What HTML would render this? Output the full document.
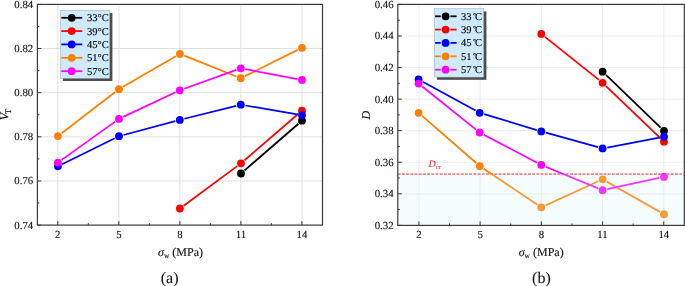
<!DOCTYPE html>
<html><head><meta charset="utf-8"><title>chart</title>
<style>
html,body{margin:0;padding:0;background:#fff;}
body{width:685px;height:286px;overflow:hidden;font-family:"Liberation Serif",serif;}
text{stroke:#000;stroke-width:0.12px;}
svg{display:block;font-family:"Liberation Serif",serif;will-change:transform;text-rendering:geometricPrecision;}
</style></head><body>
<svg width="685" height="286" viewBox="0 0 685 286">
<rect width="685" height="286" fill="#fff"/>
<line x1="57.8" y1="4.4" x2="57.8" y2="225.1" stroke="#e0e0e0" stroke-width="1"/><line x1="118.83" y1="4.4" x2="118.83" y2="225.1" stroke="#e0e0e0" stroke-width="1"/><line x1="179.86" y1="4.4" x2="179.86" y2="225.1" stroke="#e0e0e0" stroke-width="1"/><line x1="240.89" y1="4.4" x2="240.89" y2="225.1" stroke="#e0e0e0" stroke-width="1"/><line x1="301.92" y1="4.4" x2="301.92" y2="225.1" stroke="#e0e0e0" stroke-width="1"/><line x1="37.4" y1="48.54" x2="322.5" y2="48.54" stroke="#e0e0e0" stroke-width="1"/><line x1="37.4" y1="92.68" x2="322.5" y2="92.68" stroke="#e0e0e0" stroke-width="1"/><line x1="37.4" y1="136.82000000000002" x2="322.5" y2="136.82000000000002" stroke="#e0e0e0" stroke-width="1"/><line x1="37.4" y1="180.96" x2="322.5" y2="180.96" stroke="#e0e0e0" stroke-width="1"/>
<line x1="244.55" y1="170.42" x2="298.45" y2="123.78" stroke="#000000" stroke-width="1.75"/><circle cx="241.0" cy="173.5" r="3.9" fill="#000000"/><circle cx="302.0" cy="120.7" r="3.9" fill="#000000"/>
<line x1="183.68" y1="205.70" x2="237.22" y2="166.10" stroke="#ff0000" stroke-width="1.75"/><line x1="244.56" y1="160.23" x2="298.44" y2="113.77" stroke="#ff0000" stroke-width="1.75"/><circle cx="179.9" cy="208.5" r="3.9" fill="#ff0000"/><circle cx="241.0" cy="163.3" r="3.9" fill="#ff0000"/><circle cx="302.0" cy="110.7" r="3.9" fill="#ff0000"/>
<line x1="62.12" y1="164.22" x2="114.78" y2="138.28" stroke="#0000ff" stroke-width="1.75"/><line x1="123.54" y1="134.98" x2="175.26" y2="121.12" stroke="#0000ff" stroke-width="1.75"/><line x1="184.36" y1="118.76" x2="236.24" y2="105.84" stroke="#0000ff" stroke-width="1.75"/><line x1="245.43" y1="105.49" x2="297.37" y2="114.41" stroke="#0000ff" stroke-width="1.75"/><circle cx="57.9" cy="166.3" r="3.9" fill="#0000ff"/><circle cx="119.0" cy="136.2" r="3.9" fill="#0000ff"/><circle cx="179.8" cy="119.9" r="3.9" fill="#0000ff"/><circle cx="240.8" cy="104.7" r="3.9" fill="#0000ff"/><circle cx="302.0" cy="115.2" r="3.9" fill="#0000ff"/>
<line x1="61.63" y1="133.24" x2="115.27" y2="92.06" stroke="#ff8000" stroke-width="1.75"/><line x1="123.07" y1="86.84" x2="175.83" y2="56.26" stroke="#ff8000" stroke-width="1.75"/><line x1="184.27" y1="55.64" x2="236.43" y2="76.46" stroke="#ff8000" stroke-width="1.75"/><line x1="245.01" y1="76.11" x2="297.79" y2="49.89" stroke="#ff8000" stroke-width="1.75"/><circle cx="57.9" cy="136.1" r="3.9" fill="#ff8000"/><circle cx="119.0" cy="89.2" r="3.9" fill="#ff8000"/><circle cx="179.9" cy="53.9" r="3.9" fill="#ff8000"/><circle cx="240.8" cy="78.2" r="3.9" fill="#ff8000"/><circle cx="302.0" cy="47.8" r="3.9" fill="#ff8000"/>
<line x1="61.72" y1="159.87" x2="115.18" y2="121.63" stroke="#ff00ff" stroke-width="1.75"/><line x1="123.25" y1="116.90" x2="175.55" y2="92.30" stroke="#ff00ff" stroke-width="1.75"/><line x1="184.22" y1="88.71" x2="236.38" y2="69.89" stroke="#ff00ff" stroke-width="1.75"/><line x1="245.42" y1="69.18" x2="297.38" y2="79.02" stroke="#ff00ff" stroke-width="1.75"/><circle cx="57.9" cy="162.6" r="3.9" fill="#ff00ff"/><circle cx="119.0" cy="118.9" r="3.9" fill="#ff00ff"/><circle cx="179.8" cy="90.3" r="3.9" fill="#ff00ff"/><circle cx="240.8" cy="68.3" r="3.9" fill="#ff00ff"/><circle cx="302.0" cy="79.9" r="3.9" fill="#ff00ff"/>
<rect x="37.4" y="4.4" width="285.1" height="220.7" fill="none" stroke="#3a3a3a" stroke-width="1.2"/><line x1="57.8" y1="225.1" x2="57.8" y2="221.1" stroke="#3a3a3a" stroke-width="1"/><line x1="118.83" y1="225.1" x2="118.83" y2="221.1" stroke="#3a3a3a" stroke-width="1"/><line x1="179.86" y1="225.1" x2="179.86" y2="221.1" stroke="#3a3a3a" stroke-width="1"/><line x1="240.89" y1="225.1" x2="240.89" y2="221.1" stroke="#3a3a3a" stroke-width="1"/><line x1="301.92" y1="225.1" x2="301.92" y2="221.1" stroke="#3a3a3a" stroke-width="1"/><line x1="37.4" y1="4.4" x2="41.4" y2="4.4" stroke="#3a3a3a" stroke-width="1"/><line x1="37.4" y1="48.54" x2="41.4" y2="48.54" stroke="#3a3a3a" stroke-width="1"/><line x1="37.4" y1="92.68" x2="41.4" y2="92.68" stroke="#3a3a3a" stroke-width="1"/><line x1="37.4" y1="136.82000000000002" x2="41.4" y2="136.82000000000002" stroke="#3a3a3a" stroke-width="1"/><line x1="37.4" y1="180.96" x2="41.4" y2="180.96" stroke="#3a3a3a" stroke-width="1"/><line x1="37.4" y1="225.1" x2="41.4" y2="225.1" stroke="#3a3a3a" stroke-width="1"/><line x1="88.315" y1="225.1" x2="88.315" y2="223.1" stroke="#3a3a3a" stroke-width="1"/><line x1="149.345" y1="225.1" x2="149.345" y2="223.1" stroke="#3a3a3a" stroke-width="1"/><line x1="210.375" y1="225.1" x2="210.375" y2="223.1" stroke="#3a3a3a" stroke-width="1"/><line x1="271.405" y1="225.1" x2="271.405" y2="223.1" stroke="#3a3a3a" stroke-width="1"/><line x1="37.4" y1="26.47" x2="39.4" y2="26.47" stroke="#3a3a3a" stroke-width="1"/><line x1="37.4" y1="70.61" x2="39.4" y2="70.61" stroke="#3a3a3a" stroke-width="1"/><line x1="37.4" y1="114.75000000000001" x2="39.4" y2="114.75000000000001" stroke="#3a3a3a" stroke-width="1"/><line x1="37.4" y1="158.89000000000001" x2="39.4" y2="158.89000000000001" stroke="#3a3a3a" stroke-width="1"/><line x1="37.4" y1="203.03" x2="39.4" y2="203.03" stroke="#3a3a3a" stroke-width="1"/><text x="57.8" y="237.9" font-size="10.8" text-anchor="middle" fill="#111">2</text><text x="118.83" y="237.9" font-size="10.8" text-anchor="middle" fill="#111">5</text><text x="179.86" y="237.9" font-size="10.8" text-anchor="middle" fill="#111">8</text><text x="240.89" y="237.9" font-size="10.8" text-anchor="middle" fill="#111">11</text><text x="301.92" y="237.9" font-size="10.8" text-anchor="middle" fill="#111">14</text><text x="33.199999999999996" y="7.800000000000001" font-size="10.8" text-anchor="end" fill="#111">0.84</text><text x="33.199999999999996" y="51.94" font-size="10.8" text-anchor="end" fill="#111">0.82</text><text x="33.199999999999996" y="96.08000000000001" font-size="10.8" text-anchor="end" fill="#111">0.80</text><text x="33.199999999999996" y="140.22000000000003" font-size="10.8" text-anchor="end" fill="#111">0.78</text><text x="33.199999999999996" y="184.36" font-size="10.8" text-anchor="end" fill="#111">0.76</text><text x="33.199999999999996" y="228.5" font-size="10.8" text-anchor="end" fill="#111">0.74</text>
<rect x="62.900000000000006" y="13.0" width="49.5" height="68.0" fill="#4d4d4d"/><rect x="60.2" y="10.3" width="49.5" height="68.0" fill="#cfeafc" stroke="#9aa" stroke-width="0.5"/><line x1="61.3" y1="17.8" x2="82.3" y2="17.8" stroke="#000000" stroke-width="1.75"/><circle cx="71.7" cy="17.8" r="3.9" fill="#000000"/><text x="87" y="21.3" font-size="10.5" fill="#000">33°C</text><line x1="61.3" y1="31.1" x2="82.3" y2="31.1" stroke="#ff0000" stroke-width="1.75"/><circle cx="71.7" cy="31.1" r="3.9" fill="#ff0000"/><text x="87" y="34.6" font-size="10.5" fill="#000">39°C</text><line x1="61.3" y1="44.4" x2="82.3" y2="44.4" stroke="#0000ff" stroke-width="1.75"/><circle cx="71.7" cy="44.4" r="3.9" fill="#0000ff"/><text x="87" y="47.9" font-size="10.5" fill="#000">45°C</text><line x1="61.3" y1="57.8" x2="82.3" y2="57.8" stroke="#ff8000" stroke-width="1.75"/><circle cx="71.7" cy="57.8" r="3.9" fill="#ff8000"/><text x="87" y="61.3" font-size="10.5" fill="#000">51°C</text><line x1="61.3" y1="71.2" x2="82.3" y2="71.2" stroke="#ff00ff" stroke-width="1.75"/><circle cx="71.7" cy="71.2" r="3.9" fill="#ff00ff"/><text x="87" y="74.7" font-size="10.5" fill="#000">57°C</text>
<text x="158" y="256" font-size="12" fill="#111"><tspan font-style="italic">σ</tspan><tspan font-size="7.5" dy="2">w</tspan><tspan dy="-2"> (MPa)</tspan></text><text x="169.6" y="283" font-size="16" text-anchor="middle" fill="#111" style="stroke-width:0.05px">(a)</text><text transform="translate(7.7,120.3) rotate(-90)" font-size="12" fill="#111"><tspan font-style="italic">V</tspan><tspan font-size="8.5" dy="3.2" dx="-1.0" stroke="#111" stroke-width="0.2">T</tspan></text><line x1="418.9" y1="4.4" x2="418.9" y2="225.4" stroke="#dddddd" stroke-width="0.55"/><line x1="480.12" y1="4.4" x2="480.12" y2="225.4" stroke="#dddddd" stroke-width="0.55"/><line x1="541.3399999999999" y1="4.4" x2="541.3399999999999" y2="225.4" stroke="#dddddd" stroke-width="0.55"/><line x1="602.56" y1="4.4" x2="602.56" y2="225.4" stroke="#dddddd" stroke-width="0.55"/><line x1="663.78" y1="4.4" x2="663.78" y2="225.4" stroke="#dddddd" stroke-width="0.55"/><line x1="397.8" y1="35.97" x2="684.3" y2="35.97" stroke="#dddddd" stroke-width="0.55"/><line x1="397.8" y1="67.54" x2="684.3" y2="67.54" stroke="#dddddd" stroke-width="0.55"/><line x1="397.8" y1="99.11000000000001" x2="684.3" y2="99.11000000000001" stroke="#dddddd" stroke-width="0.55"/><line x1="397.8" y1="130.68" x2="684.3" y2="130.68" stroke="#dddddd" stroke-width="0.55"/><line x1="397.8" y1="162.25" x2="684.3" y2="162.25" stroke="#dddddd" stroke-width="0.55"/><line x1="397.8" y1="193.82000000000002" x2="684.3" y2="193.82000000000002" stroke="#dddddd" stroke-width="0.55"/>
<line x1="397.8" y1="174.1" x2="684.3" y2="174.1" stroke="#ff3838" stroke-width="1.45" stroke-dasharray="2.8 1.4"/><line x1="605.99" y1="74.96" x2="660.61" y2="127.54" stroke="#000000" stroke-width="1.75"/><circle cx="602.6" cy="71.7" r="3.9" fill="#000000"/><circle cx="664.0" cy="130.8" r="3.9" fill="#000000"/>
<line x1="544.97" y1="36.83" x2="598.93" y2="79.87" stroke="#ff0000" stroke-width="1.75"/><line x1="605.99" y1="86.05" x2="660.61" y2="138.45" stroke="#ff0000" stroke-width="1.75"/><circle cx="541.3" cy="33.9" r="3.9" fill="#ff0000"/><circle cx="602.6" cy="82.8" r="3.9" fill="#ff0000"/><circle cx="664.0" cy="141.7" r="3.9" fill="#ff0000"/>
<line x1="422.72" y1="81.65" x2="475.58" y2="110.55" stroke="#0000ff" stroke-width="1.75"/><line x1="484.20" y1="114.16" x2="536.80" y2="130.04" stroke="#0000ff" stroke-width="1.75"/><line x1="545.83" y1="132.66" x2="598.07" y2="147.14" stroke="#0000ff" stroke-width="1.75"/><line x1="607.22" y1="147.52" x2="659.38" y2="137.58" stroke="#0000ff" stroke-width="1.75"/><circle cx="418.6" cy="79.4" r="3.9" fill="#0000ff"/><circle cx="479.7" cy="112.8" r="3.9" fill="#0000ff"/><circle cx="541.3" cy="131.4" r="3.9" fill="#0000ff"/><circle cx="602.6" cy="148.4" r="3.9" fill="#0000ff"/><circle cx="664.0" cy="136.7" r="3.9" fill="#0000ff"/>
<line x1="422.14" y1="115.89" x2="476.26" y2="163.01" stroke="#ff8000" stroke-width="1.75"/><line x1="483.70" y1="168.72" x2="537.40" y2="204.68" stroke="#ff8000" stroke-width="1.75"/><line x1="545.58" y1="205.35" x2="598.32" y2="181.25" stroke="#ff8000" stroke-width="1.75"/><line x1="606.69" y1="181.62" x2="659.91" y2="211.88" stroke="#ff8000" stroke-width="1.75"/><circle cx="418.6" cy="112.8" r="3.9" fill="#ff8000"/><circle cx="479.8" cy="166.1" r="3.9" fill="#ff8000"/><circle cx="541.3" cy="207.3" r="3.9" fill="#ff8000"/><circle cx="602.6" cy="179.3" r="3.9" fill="#ff8000"/><circle cx="664.0" cy="214.2" r="3.9" fill="#ff8000"/>
<line x1="422.27" y1="86.54" x2="476.03" y2="129.56" stroke="#ff00ff" stroke-width="1.75"/><line x1="483.86" y1="134.69" x2="537.14" y2="162.71" stroke="#ff00ff" stroke-width="1.75"/><line x1="545.64" y1="166.69" x2="598.26" y2="188.41" stroke="#ff00ff" stroke-width="1.75"/><line x1="607.19" y1="189.20" x2="659.41" y2="177.90" stroke="#ff00ff" stroke-width="1.75"/><circle cx="418.6" cy="83.6" r="3.9" fill="#ff00ff"/><circle cx="479.7" cy="132.5" r="3.9" fill="#ff00ff"/><circle cx="541.3" cy="164.9" r="3.9" fill="#ff00ff"/><circle cx="602.6" cy="190.2" r="3.9" fill="#ff00ff"/><circle cx="664.0" cy="176.9" r="3.9" fill="#ff00ff"/>
<rect x="397.8" y="174.1" width="286.49999999999994" height="51.30000000000001" fill="rgb(212,245,255)" fill-opacity="0.22"/><rect x="397.8" y="4.4" width="286.49999999999994" height="221.0" fill="none" stroke="#3a3a3a" stroke-width="1.2"/><line x1="418.9" y1="225.4" x2="418.9" y2="221.4" stroke="#3a3a3a" stroke-width="1"/><line x1="480.12" y1="225.4" x2="480.12" y2="221.4" stroke="#3a3a3a" stroke-width="1"/><line x1="541.3399999999999" y1="225.4" x2="541.3399999999999" y2="221.4" stroke="#3a3a3a" stroke-width="1"/><line x1="602.56" y1="225.4" x2="602.56" y2="221.4" stroke="#3a3a3a" stroke-width="1"/><line x1="663.78" y1="225.4" x2="663.78" y2="221.4" stroke="#3a3a3a" stroke-width="1"/><line x1="397.8" y1="4.4" x2="401.8" y2="4.4" stroke="#3a3a3a" stroke-width="1"/><line x1="397.8" y1="35.97" x2="401.8" y2="35.97" stroke="#3a3a3a" stroke-width="1"/><line x1="397.8" y1="67.54" x2="401.8" y2="67.54" stroke="#3a3a3a" stroke-width="1"/><line x1="397.8" y1="99.11000000000001" x2="401.8" y2="99.11000000000001" stroke="#3a3a3a" stroke-width="1"/><line x1="397.8" y1="130.68" x2="401.8" y2="130.68" stroke="#3a3a3a" stroke-width="1"/><line x1="397.8" y1="162.25" x2="401.8" y2="162.25" stroke="#3a3a3a" stroke-width="1"/><line x1="397.8" y1="193.82000000000002" x2="401.8" y2="193.82000000000002" stroke="#3a3a3a" stroke-width="1"/><line x1="397.8" y1="225.39000000000001" x2="401.8" y2="225.39000000000001" stroke="#3a3a3a" stroke-width="1"/><line x1="449.51" y1="225.4" x2="449.51" y2="223.4" stroke="#3a3a3a" stroke-width="1"/><line x1="510.72999999999996" y1="225.4" x2="510.72999999999996" y2="223.4" stroke="#3a3a3a" stroke-width="1"/><line x1="571.9499999999999" y1="225.4" x2="571.9499999999999" y2="223.4" stroke="#3a3a3a" stroke-width="1"/><line x1="633.17" y1="225.4" x2="633.17" y2="223.4" stroke="#3a3a3a" stroke-width="1"/><line x1="397.8" y1="20.185" x2="399.8" y2="20.185" stroke="#3a3a3a" stroke-width="1"/><line x1="397.8" y1="51.755" x2="399.8" y2="51.755" stroke="#3a3a3a" stroke-width="1"/><line x1="397.8" y1="83.32500000000002" x2="399.8" y2="83.32500000000002" stroke="#3a3a3a" stroke-width="1"/><line x1="397.8" y1="114.89500000000001" x2="399.8" y2="114.89500000000001" stroke="#3a3a3a" stroke-width="1"/><line x1="397.8" y1="146.465" x2="399.8" y2="146.465" stroke="#3a3a3a" stroke-width="1"/><line x1="397.8" y1="178.03500000000003" x2="399.8" y2="178.03500000000003" stroke="#3a3a3a" stroke-width="1"/><line x1="397.8" y1="209.60500000000002" x2="399.8" y2="209.60500000000002" stroke="#3a3a3a" stroke-width="1"/><text x="418.9" y="238.20000000000002" font-size="10.8" text-anchor="middle" fill="#111">2</text><text x="480.12" y="238.20000000000002" font-size="10.8" text-anchor="middle" fill="#111">5</text><text x="541.3399999999999" y="238.20000000000002" font-size="10.8" text-anchor="middle" fill="#111">8</text><text x="602.56" y="238.20000000000002" font-size="10.8" text-anchor="middle" fill="#111">11</text><text x="663.78" y="238.20000000000002" font-size="10.8" text-anchor="middle" fill="#111">14</text><text x="393.6" y="7.800000000000001" font-size="10.8" text-anchor="end" fill="#111">0.46</text><text x="393.6" y="39.37" font-size="10.8" text-anchor="end" fill="#111">0.44</text><text x="393.6" y="70.94000000000001" font-size="10.8" text-anchor="end" fill="#111">0.42</text><text x="393.6" y="102.51000000000002" font-size="10.8" text-anchor="end" fill="#111">0.40</text><text x="393.6" y="134.08" font-size="10.8" text-anchor="end" fill="#111">0.38</text><text x="393.6" y="165.65" font-size="10.8" text-anchor="end" fill="#111">0.36</text><text x="393.6" y="197.22000000000003" font-size="10.8" text-anchor="end" fill="#111">0.34</text><text x="393.6" y="228.79000000000002" font-size="10.8" text-anchor="end" fill="#111">0.32</text>
<rect x="437.0" y="11.399999999999999" width="49.39999999999998" height="68.39999999999999" fill="#4d4d4d"/><rect x="434.3" y="8.7" width="49.39999999999998" height="68.39999999999999" fill="#cfeafc" stroke="#9aa" stroke-width="0.5"/><line x1="435.1" y1="16.3" x2="440.70000000000005" y2="16.3" stroke="#000000" stroke-width="1.75"/><line x1="450.5" y1="16.3" x2="456.6" y2="16.3" stroke="#000000" stroke-width="1.75"/><circle cx="445.6" cy="16.3" r="3.9" fill="#000000"/><text x="461.1" y="19.8" font-size="10.5" fill="#000">33<tspan dx="1.4" font-size="7.5" dy="-2.2">°</tspan><tspan font-size="10.5" dx="-1.1" dy="2.2">C</tspan></text><line x1="435.1" y1="29.6" x2="440.70000000000005" y2="29.6" stroke="#ff0000" stroke-width="1.75"/><line x1="450.5" y1="29.6" x2="456.6" y2="29.6" stroke="#ff0000" stroke-width="1.75"/><circle cx="445.6" cy="29.6" r="3.9" fill="#ff0000"/><text x="461.1" y="33.1" font-size="10.5" fill="#000">39<tspan dx="1.4" font-size="7.5" dy="-2.2">°</tspan><tspan font-size="10.5" dx="-1.1" dy="2.2">C</tspan></text><line x1="435.1" y1="42.9" x2="440.70000000000005" y2="42.9" stroke="#0000ff" stroke-width="1.75"/><line x1="450.5" y1="42.9" x2="456.6" y2="42.9" stroke="#0000ff" stroke-width="1.75"/><circle cx="445.6" cy="42.9" r="3.9" fill="#0000ff"/><text x="461.1" y="46.4" font-size="10.5" fill="#000">45<tspan dx="1.4" font-size="7.5" dy="-2.2">°</tspan><tspan font-size="10.5" dx="-1.1" dy="2.2">C</tspan></text><line x1="435.1" y1="56.3" x2="440.70000000000005" y2="56.3" stroke="#ff8000" stroke-width="1.75"/><line x1="450.5" y1="56.3" x2="456.6" y2="56.3" stroke="#ff8000" stroke-width="1.75"/><circle cx="445.6" cy="56.3" r="3.9" fill="#ff8000"/><text x="461.1" y="59.8" font-size="10.5" fill="#000">51<tspan dx="1.4" font-size="7.5" dy="-2.2">°</tspan><tspan font-size="10.5" dx="-1.1" dy="2.2">C</tspan></text><line x1="435.1" y1="69.7" x2="440.70000000000005" y2="69.7" stroke="#ff00ff" stroke-width="1.75"/><line x1="450.5" y1="69.7" x2="456.6" y2="69.7" stroke="#ff00ff" stroke-width="1.75"/><circle cx="445.6" cy="69.7" r="3.9" fill="#ff00ff"/><text x="461.1" y="73.2" font-size="10.5" fill="#000">57<tspan dx="1.4" font-size="7.5" dy="-2.2">°</tspan><tspan font-size="10.5" dx="-1.1" dy="2.2">C</tspan></text>
<text x="428.4" y="166.8" font-size="10" fill="#ff3030" style="stroke:#ff3030"><tspan font-style="italic">D</tspan><tspan font-size="6.5" dy="2.2">cr</tspan></text><text x="518.7" y="256" font-size="12" fill="#111"><tspan font-style="italic">σ</tspan><tspan font-size="7.5" dy="2">w</tspan><tspan dy="-2"> (MPa)</tspan></text><text x="541.4" y="283" font-size="16" text-anchor="middle" fill="#111" style="stroke-width:0.05px">(b)</text><text transform="translate(370.1,119.6) rotate(-90)" font-size="12" fill="#111" font-style="italic">D</text></svg></body></html>
